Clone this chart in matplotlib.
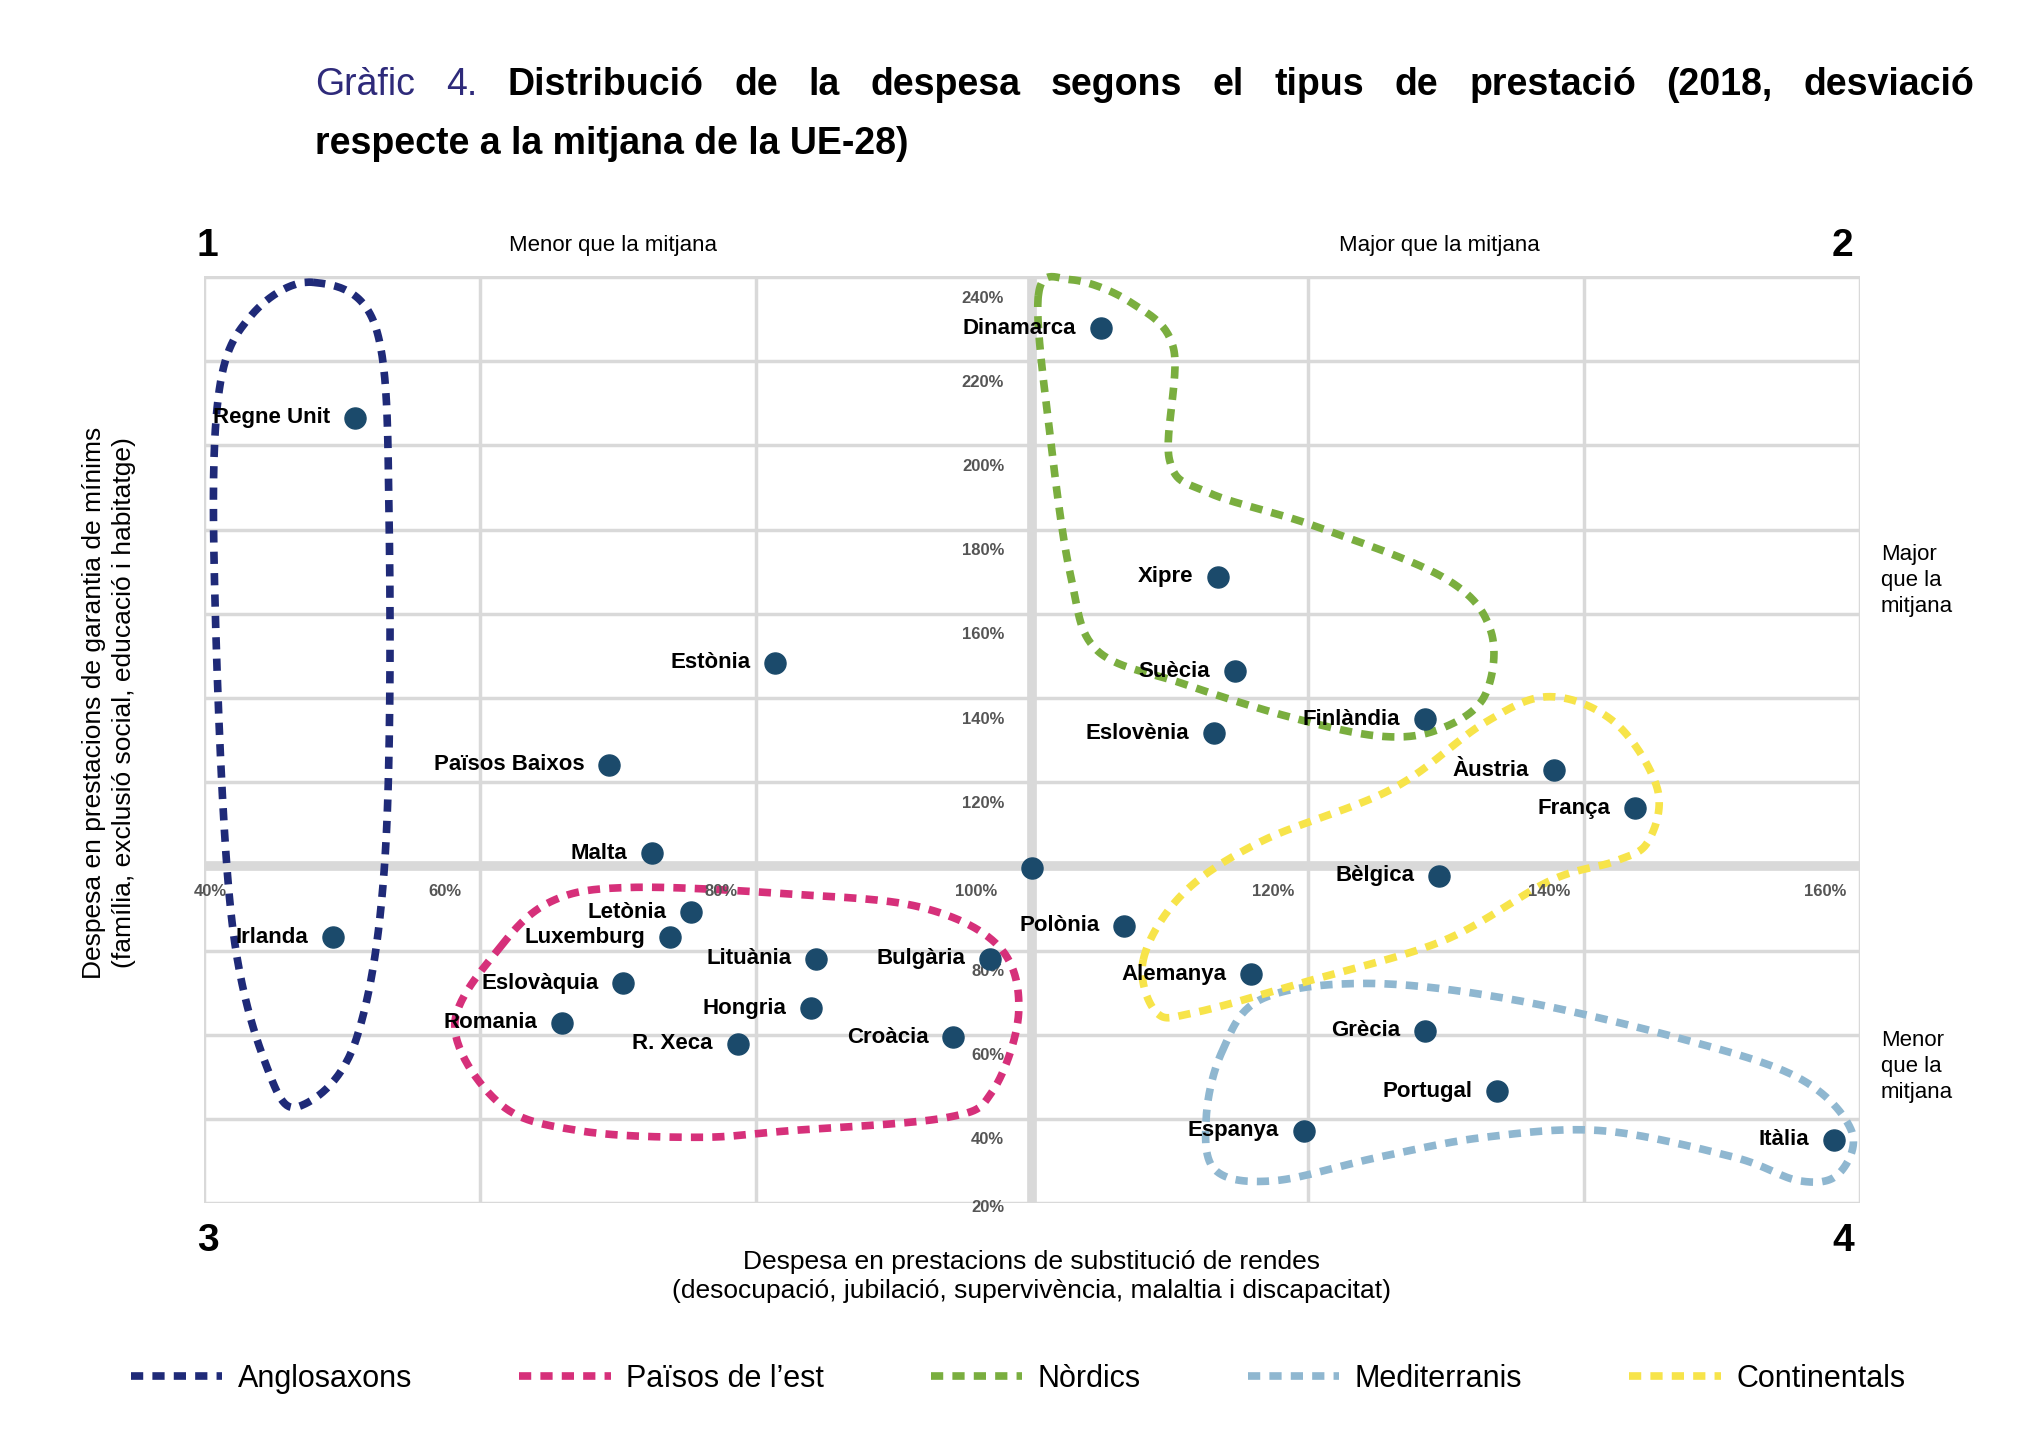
import matplotlib.pyplot as plt
import numpy as np

plt.rcParams['font.family'] = ['Liberation Sans', 'DejaVu Sans']

# Dades (% respecte a la mitjana UE-28)
paisos = ["Dinamarca", "Regne Unit", "Xipre", "Estònia", "Suècia", "Finlàndia", "Eslovènia",
          "Àustria", "Països Baixos", "França", "Malta", "Bèlgica", "Letònia", "Irlanda",
          "Luxemburg", "Polònia", "Lituània", "Bulgària", "Eslovàquia", "Alemanya", "Hongria",
          "Romania", "R. Xeca", "Croàcia", "Grècia", "Portugal", "Espanya", "Itàlia"]
substitucio = [105.0, 51.0, 113.5, 81.4, 114.7, 128.5, 113.2, 137.8, 69.4, 143.7, 72.5, 129.5,
               75.3, 49.4, 73.8, 106.7, 84.4, 97.0, 70.4, 115.9, 84.0, 66.0, 78.7, 94.3, 128.5,
               133.7, 119.7, 158.1]
garantia = [227.8, 206.6, 168.8, 148.4, 146.3, 135.0, 131.6, 122.8, 124.1, 113.8, 103.1, 97.8,
            89.1, 83.1, 83.1, 85.9, 78.1, 78.1, 72.2, 74.4, 66.3, 62.8, 57.8, 59.4, 60.9, 46.6,
            37.2, 35.0]
mitjana_ue = (100, 99.7)

x_ticks = [40, 60, 80, 100, 120, 140, 160]
y_ticks = [20, 40, 60, 80, 100, 120, 140, 160, 180, 200, 220, 240]

# Contorns dels grups (coordenades de la imatge original)
grups = {
    "Anglosaxons": ("#1f2a78", [(237, 215), (285, 250), (295, 400), (292, 650), (270, 790), (230, 840),
                                 (205, 820), (175, 700), (162, 450), (165, 300), (190, 240)]),
    "Països de l\u2019est": ("#d6307a", [(380, 720), (420, 685), (480, 675), (600, 680), (700, 690),
                                        (760, 720), (775, 770), (755, 830), (720, 850), (600, 860),
                                        (530, 865), (440, 860), (380, 840), (345, 780)]),
    "Nòrdics": ("#7aae3f", [(790, 225), (815, 213), (860, 230), (893, 265), (890, 350), (920, 375),
                             (1000, 400), (1100, 440), (1135, 480), (1130, 530), (1095, 555),
                             (1050, 560), (980, 545), (900, 520), (835, 495), (815, 440), (800, 340)]),
    "Mediterranis": ("#8fb7d0", [(930, 800), (960, 760), (1040, 748), (1150, 760), (1280, 790),
                                 (1370, 820), (1410, 860), (1400, 893), (1370, 898), (1320, 880),
                                 (1220, 860), (1130, 865), (1050, 880), (970, 898), (925, 890), (918, 850)]),
    "Continentals": ("#f7e44a", [(870, 730), (900, 680), (960, 640), (1060, 600), (1130, 550),
                                 (1180, 530), (1230, 550), (1262, 600), (1255, 640), (1230, 655),
                                 (1180, 670), (1100, 715), (1000, 745), (910, 770), (880, 770)]),
}


def px2data(p):
    return 100 + (p[0] - 785) / 210.5 * 20, 100 - (p[1] - 659) / 64 * 20


def closed_spline(pts, n=30):
    pts = np.array(pts, dtype=float)
    m = len(pts)
    out = []
    for i in range(m):
        p0, p1, p2, p3 = pts[i - 1], pts[i], pts[(i + 1) % m], pts[(i + 2) % m]
        for t in np.linspace(0, 1, n, endpoint=False):
            out.append(0.5 * ((2 * p1) + (-p0 + p2) * t + (2 * p0 - 5 * p1 + 4 * p2 - p3) * t ** 2
                              + (-p0 + 3 * p1 - 3 * p2 + p3) * t ** 3))
    out.append(out[0])
    return np.array(out)


fig = plt.figure(figsize=(20.36, 14.5), dpi=100)
W, H = 1550, 1104
fx = lambda p: p / W
fy = lambda p: 1 - p / H

ax = fig.add_axes([fx(155), fy(916), fx(1416) - fx(155), fy(210) - fy(916)])
ax.set_xlim(40, 160)
ax.set_ylim(20, 240.3)
for s in ax.spines.values():
    s.set_visible(False)
ax.set_xticks([])
ax.set_yticks([])

for x in x_ticks:
    ax.axvline(x, color="#d9d9d9", lw=2.5 if x != 100 else 7, zorder=0)
for y in y_ticks:
    ax.axhline(y, color="#d9d9d9", lw=2.5 if y != 100 else 7, zorder=0)

for x in x_ticks:
    xp = x + 0.5 if x == 40 else x - 4 if x == 100 else x - 2.5
    ax.text(xp, 94, f"{x}%", ha="center", va="center", fontsize=12, fontweight="bold", color="#555555")
for y in y_ticks:
    if y == 100:
        continue
    yp = y - 1 if y == 20 else y - 5
    ax.text(98, yp, f"{y}%", ha="right", va="center", fontsize=12, fontweight="bold", color="#555555")

handles = []
for nom, (col, pts) in grups.items():
    c = closed_spline([px2data(p) for p in pts])
    ln, = ax.plot(c[:, 0], c[:, 1], color=col, lw=5.5, linestyle=(0, (1.6, 1.2)), zorder=2,
                  clip_on=False, label=nom)
    handles.append(ln)

ax.scatter(substitucio, garantia, s=230, color="#1b4a6b", zorder=4, clip_on=False)
ax.scatter([mitjana_ue[0]], [mitjana_ue[1]], s=230, color="#1b4a6b", zorder=4)
for nom, x, y in zip(paisos, substitucio, garantia):
    ax.text(x - 1.8, y, nom, ha="right", va="center", fontsize=16, fontweight="bold", zorder=5)

# Títol (primera línia justificada)
words = ["Gràfic", "4."] + "Distribució de la despesa segons el tipus de prestació (2018, desviació".split()
fig.canvas.draw()
rend = fig.canvas.get_renderer()
objs = []
for i, w in enumerate(words):
    kw = dict(fontsize=27, color="#2e2a7a") if i < 2 else dict(fontsize=27, fontweight="bold")
    objs.append(fig.text(0, fy(65), w, va="center", **kw))
widths = [o.get_window_extent(rend).width / fig.bbox.width for o in objs]
x0, x1 = fx(240), fx(1503)
gap = (x1 - x0 - sum(widths)) / (len(words) - 1)
xc = x0
for o, wd in zip(objs, widths):
    o.set_x(xc)
    xc += wd + gap
fig.text(fx(240), fy(110), "respecte a la mitjana de la UE-28)", fontsize=27, fontweight="bold", va="center")

# Quadrants i anotacions
for t, x, y in [("1", 158, 187), ("2", 1403, 187), ("3", 158, 945), ("4", 1403, 945)]:
    fig.text(fx(x), fy(y), t, fontsize=28, fontweight="heavy", ha="center", va="center")
fig.text(fx(467), fy(187), "Menor que la mitjana", fontsize=16, ha="center", va="center")
fig.text(fx(1096), fy(187), "Major que la mitjana", fontsize=16, ha="center", va="center")
fig.text(fx(1432), fy(442), "Major\nque la\nmitjana", fontsize=16, ha="left", va="center", linespacing=1.3)
fig.text(fx(1432), fy(812), "Menor\nque la\nmitjana", fontsize=16, ha="left", va="center", linespacing=1.3)

fig.text(fx(785), fy(972), "Despesa en prestacions de substitució de rendes\n"
         "(desocupació, jubilació, supervivència, malaltia i discapacitat)",
         fontsize=19, ha="center", va="center", linespacing=1.3)
fig.text(fx(83), fy(535), "Despesa en prestacions de garantia de mínims\n"
         "(família, exclusió social, educació i habitatge)",
         fontsize=19, ha="center", va="center", rotation=90, linespacing=1.3)

fig.legend(handles=handles, loc="center", bbox_to_anchor=(0.5, fy(1050)), ncol=5, frameon=False,
           fontsize=22, handlelength=3, columnspacing=3.5, handletextpad=0.5)

fig.savefig("out.png", dpi=100)
